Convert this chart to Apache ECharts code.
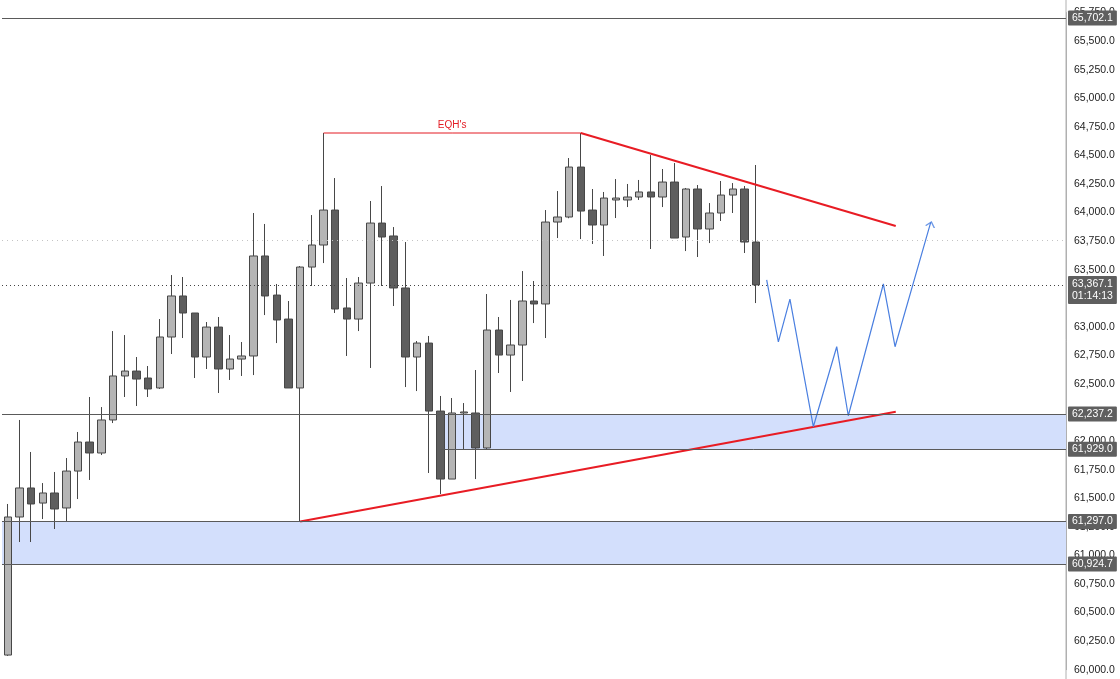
<!DOCTYPE html>
<html><head><meta charset="utf-8">
<script src="https://cdn.jsdelivr.net/npm/echarts@6/dist/echarts.min.js"></script>
<style>html,body{margin:0;padding:0;background:#fff}#c{width:1120px;height:679px}</style>
</head><body><div id="c"></div>
<script>
// ---- data ----
const slotCount = 91; // category slots (candles + projection space)
const opens  = [60128,61336,61590,61458,61546,61415,61738,61992,61896,62185,62570,62613,62552,62465,62911,63270,63121,62736,62998,62631,62718,62745,63620,63278,63068,62465,63523,63716,64022,63165,63068,63383,63908,63795,63340,62736,62858,62263,61668,62246,62246,61940,62972,62753,62841,63226,63200,63917,63961,64398,64022,63891,64110,64110,64136,64180,64136,64267,63786,64206,63856,63996,64153,64206,63742];
const closes = [61336,61590,61450,61546,61406,61738,61992,61896,62185,62570,62613,62543,62456,62911,63270,63121,62736,62998,62631,62718,62745,63620,63270,63060,62465,63523,63716,64022,63156,63068,63383,63908,63786,63340,62736,62858,62263,61668,62246,62255,61940,62972,62753,62841,63226,63200,63917,63961,64398,64013,63891,64127,64127,64136,64180,64136,64267,63777,64206,63856,63996,64153,64206,63742,63367.1];
const lows   = [60120,61117,61117,61318,61231,61301,61493,61660,61878,62158,62386,62307,62386,62456,62762,62902,62552,62631,62421,62535,62570,62578,63103,62858,62465,61297,63357,63558,63121,62745,62963,62640,63357,63182,62473,62438,61721,61537,61668,61931,61668,61931,62596,62430,62526,63033,62902,63777,63950,63768,63725,63620,63952,64048,64110,63681,64048,63777,63663,63611,63733,63926,63996,63646,63208];
const highs  = [61450,62185,61905,61633,61730,61852,62080,62386,62298,62963,62928,62736,62657,63068,63453,63436,63121,63042,63086,62928,62867,63996,63900,63375,63226,63532,63978,64696,64302,63427,63436,64101,64232,63873,63742,62876,62920,62395,62377,62333,62622,63287,63086,63235,63488,63401,64022,64188,64477,64696,64206,64180,64293,64250,64285,64503,64381,64433,64215,64241,64083,64276,64258,64232,64416];

const yTicks = {min: 60000, max: 65750, step: 250};
const levelTop = 65702.1;
const lastPrice = 63367.1;
const lastTimer = '01:14:13';
const prevLevel = 63760;
const zoneA = [61929.0, 62237.2];   // upper demand zone
const zoneAStart = 37;              // candle index where zone A starts
const zoneB = [60924.7, 61297.0];   // lower demand zone
const eqhLevel = 64696;
const eqhSpan = [27, 49];
const eqhText = "EQH's";
const resistLine = [[49, 64696], [75.94, 63882]];
const supportLine = [[25, 61297], [75.94, 62257]];
const projPath = [[64.90,63410],[65.90,62869],[66.89,63243],[68.89,62126],[70.89,62826],[71.88,62222],[74.88,63375],[75.88,62826],[78.93,63914]];

// ---- build ----
const categories = Array.from({length: slotCount}, (_, i) => String(i + 1));
const candleData = opens.map((o, i) => [o, closes[i], lows[i], highs[i]]);
function fmt(v){
  const s = Math.abs(v).toFixed(1); const [ip, dp] = s.split('.');
  return (v < 0 ? '-' : '') + ip.replace(/\B(?=(\d{3})+(?!\d))/g, ',') + '.' + dp;
}
const FONT = 'Liberation Sans, Arial, sans-serif';
const badge = (text, dy) => ({
  show: true, position: 'end', distance: 2, formatter: text,
  color: '#fff', backgroundColor: '#5f5f5f', padding: [2, 4, 1, 4],
  fontSize: 10.5, fontFamily: FONT, lineHeight: 12, borderRadius: 1,
  offset: [0, dy || 0]
});
const solid = () => ({color: '#5a5a5a', width: 1, type: 'solid'});
const eqhMid = (eqhSpan[0] + eqhSpan[1]) / 2;

const chart = echarts.init(document.getElementById('c'), null, {renderer: 'canvas'});
chart.setOption({
  animation: false,
  backgroundColor: '#ffffff',
  grid: {left: 2, right: 54, top: 12.55, bottom: 9.32},
  xAxis: [
    {type: 'category', data: categories, boundaryGap: true, show: false},
    {type: 'value', min: -0.5, max: slotCount - 0.5, show: false}
  ],
  yAxis: {
    type: 'value', position: 'right', min: yTicks.min, max: yTicks.max, interval: yTicks.step,
    axisLine: {show: true, onZero: false, lineStyle: {color: '#b0b0b0', width: 1}},
    axisTick: {show: false},
    splitLine: {show: false},
    axisLabel: {margin: 8, color: '#222', fontSize: 10.5, fontFamily: FONT, formatter: v => fmt(v)}
  },
  graphic: [{type: 'line', z: 0, shape: {x1: 1066, y1: 0, x2: 1066, y2: 679}, style: {stroke: '#b0b0b0', lineWidth: 1}}],
  series: [
    {
      type: 'line', xAxisIndex: 1, data: [], z: 1,
      markArea: {
        silent: true,
        itemStyle: {color: '#d3dffc'},
        data: [
          [{xAxis: zoneAStart, yAxis: zoneA[0]}, {xAxis: slotCount - 0.5, yAxis: zoneA[1]}],
          [{xAxis: -0.5, yAxis: zoneB[0]}, {xAxis: slotCount - 0.5, yAxis: zoneB[1]}]
        ]
      },
      markLine: {
        silent: true, symbol: ['none', 'none'],
        lineStyle: solid(),
        data: [
          {yAxis: levelTop, lineStyle: solid(), label: badge(fmt(levelTop))},
          {yAxis: zoneA[1], lineStyle: solid(), label: badge(fmt(zoneA[1]))},
          [{coord: [zoneAStart, zoneA[0]], label: badge(fmt(zoneA[0]))}, {coord: [slotCount - 0.5, zoneA[0]]}],
          {yAxis: zoneB[1], lineStyle: solid(), label: badge(fmt(zoneB[1]))},
          {yAxis: zoneB[0], lineStyle: solid(), label: badge(fmt(zoneB[0]))},
          {yAxis: prevLevel, lineStyle: {color: '#c4c4c4', width: 1, type: [1, 4]}, label: {show: false}},
          {yAxis: lastPrice, lineStyle: {color: '#444', width: 1, type: [1, 3]},
           label: Object.assign(badge(fmt(lastPrice) + '\n' + lastTimer, 5), {padding: [2, 4, 2, 4]})}
        ]
      }
    },
    {
      type: 'line', xAxisIndex: 1, z: 4,
      data: [
        {value: [eqhSpan[0], eqhLevel]},
        {value: [eqhMid, eqhLevel], label: {show: true, position: 'top', distance: 3, formatter: eqhText, color: '#e31b23', fontSize: 10, fontFamily: FONT}},
        {value: [eqhSpan[1], eqhLevel]}
      ],
      symbol: 'circle', symbolSize: 0, showSymbol: true,
      itemStyle: {color: '#e31b23'},
      lineStyle: {color: '#e31b23', width: 1}
    },
    {
      type: 'candlestick', xAxisIndex: 0, data: candleData, barWidth: 8, z: 3,
      itemStyle: {color: '#b5b5b5', color0: '#5e5e5e', borderColor: '#474747', borderColor0: '#474747', borderWidth: 1}
    },
    {type: 'line', xAxisIndex: 1, data: resistLine, showSymbol: false, z: 4, lineStyle: {color: '#e81c24', width: 2}},
    {type: 'line', xAxisIndex: 1, data: supportLine, showSymbol: false, z: 4, lineStyle: {color: '#e81c24', width: 2}},
    {type: 'line', xAxisIndex: 1, data: projPath, showSymbol: false, z: 4, lineStyle: {color: '#4a7fe0', width: 1.2}},
    {type: 'scatter', xAxisIndex: 1, data: [projPath[projPath.length - 1]], z: 5,
     symbol: 'path://M0,6 L5,0 L10,6', symbolSize: [9, 5], symbolRotate: -16, symbolOffset: [0, 2],
     itemStyle: {color: 'none', borderColor: '#4a7fe0', borderWidth: 1.2}}
  ]
});
</script></body></html>
